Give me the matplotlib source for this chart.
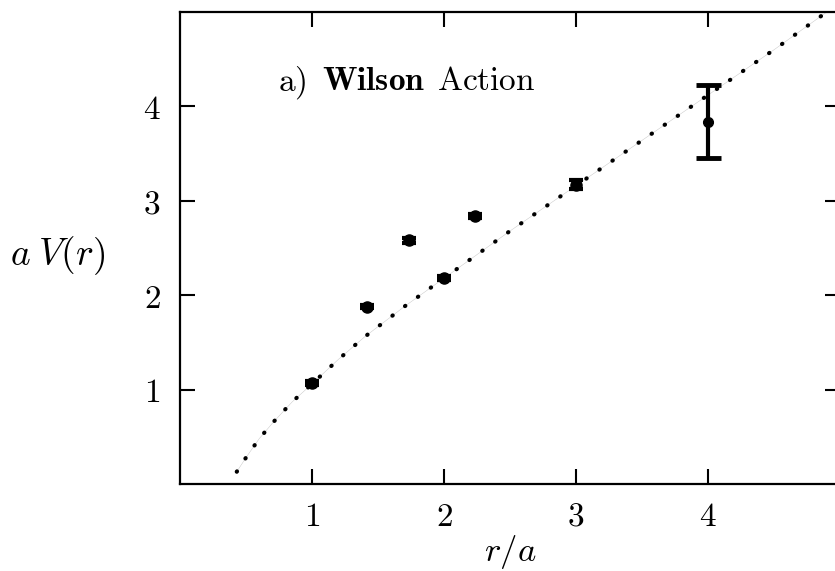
import matplotlib
matplotlib.use('Agg')
import matplotlib.pyplot as plt
import numpy as np

plt.rcParams['mathtext.fontset'] = 'cm'
plt.rcParams['font.family'] = 'DejaVu Serif'

# static potential data, Wilson action
r = np.array([1.0, 1.414, 1.732, 2.0, 2.236, 3.0, 4.0])
V = np.array([1.07, 1.88, 2.58, 2.18, 2.84, 3.17, 3.84])
dV = np.array([0.02, 0.02, 0.03, 0.02, 0.02, 0.05, 0.39])

# fitted potential curve
r_fit = np.array([0.43, 0.50, 0.60, 0.71, 0.85, 1.00, 1.20, 1.40, 1.70,
                  2.00, 2.50, 3.00, 3.50, 4.00, 4.50, 4.92])
V_fit = np.array([0.13, 0.28, 0.48, 0.66, 0.87, 1.06, 1.32, 1.56, 1.88,
                  2.18, 2.68, 3.16, 3.64, 4.12, 4.60, 5.02])

xticks = [1, 2, 3, 4]
yticks = [1, 2, 3, 4]

fig = plt.figure(figsize=(8.35, 5.71), dpi=100)
ax = fig.add_axes([180/835, (571-484)/571, 660/835, 472/571])

ax.plot(r_fit, V_fit, '-', color='0.75', lw=0.3, zorder=1)
ax.plot(r_fit, V_fit, color='black', lw=3.0, linestyle=(0, (0.1, 3.7)),
        dash_capstyle='round', zorder=2)

ax.errorbar(r[:-1], V[:-1], yerr=dV[:-1], fmt='o', color='black', ms=8,
            capsize=5, capthick=3, elinewidth=2, zorder=3)
ax.errorbar(r[-1:], V[-1:], yerr=dV[-1:], fmt='o', color='black', ms=7,
            capsize=9, capthick=3.5, elinewidth=3, zorder=3)

ax.set_xlim(0, 5)
ax.set_ylim(0, 5)
ax.set_xticks(xticks)
ax.set_yticks(yticks)
ax.set_xticklabels(['$%d$' % t for t in xticks])
ax.set_yticklabels(['$%d$' % t for t in yticks])
ax.tick_params(direction='in', length=11, width=1.5, labelsize=24,
               top=True, right=True, pad=12)
ax.tick_params(axis='y', pad=14)
for s in ax.spines.values():
    s.set_linewidth(1.6)

ax.set_xlabel('$r/a$', fontsize=25, labelpad=0)
ax.set_ylabel('$a\\;V(r)$', fontsize=27, rotation=0, ha='center', va='center')
ax.yaxis.set_label_coords(-0.185, 0.485)

# panel label
ax.text(0.742, 4.17, r'$\mathrm{a)}$', fontsize=24, va='baseline', ha='left')
ax.text(1.076, 4.17, r'$\mathbf{Wilson}$', fontsize=24, va='baseline', ha='left')
ax.text(1.947, 4.17, r'$\mathrm{Action}$', fontsize=24, va='baseline', ha='left')

plt.savefig('out.png', dpi=100)
